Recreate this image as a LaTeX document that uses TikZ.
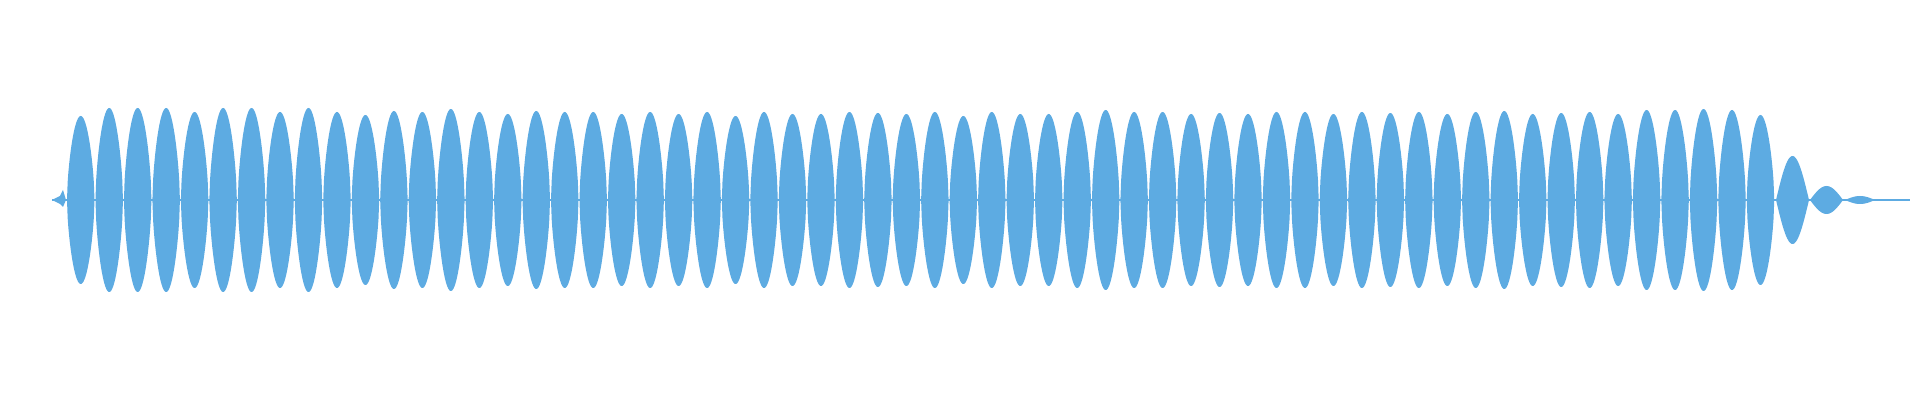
\documentclass[tikz,border=0pt]{standalone}
\definecolor{wv}{HTML}{5DABE2}
\begin{document}
\begin{tikzpicture}[x=0.5pt,y=-0.5pt,wave/.style={fill=wv,draw=none}]
\useasboundingbox (0,0) rectangle (1920,400);
\draw[wv,line width=1pt] (52,200) -- (1910,200);
\fill[wave] (52,200) -- (60,196) -- (63,190) -- (66,200) -- (63,207) -- (60,204) -- cycle;
\foreach \A [count=\i from 0] in {84,92,92,92,88,92,92,88,92,88,85,89,88,91,88,86,89,88,88,86,88,86,88,84,88,86,86,88,87,86,88,84,88,86,86,88,90,88,88,86,87,86,88,88,86,88,87,88,86,88,89,86,87,88,86,90,90,91,90,85}{
  \pgfmathsetmacro\a{67+28.47*\i}
  \fill[wave] plot[domain=0:180,samples=41] ({\a+27.5*\x/180},{200-\A*abs(sin(\x))^0.6})
     -- plot[domain=180:0,samples=41] ({\a+27.5*\x/180},{200+\A*abs(sin(\x))^0.6}) -- cycle;
}
\foreach \s/\w/\A in {1776/33/44, 1810/33/14, 1845/30/4}{
  \fill[wave] plot[domain=0:180,samples=31] ({\s+\w*\x/180},{200-\A*sin(\x)})
     -- plot[domain=180:0,samples=31] ({\s+\w*\x/180},{200+\A*sin(\x)}) -- cycle;
}
\end{tikzpicture}
\end{document}
